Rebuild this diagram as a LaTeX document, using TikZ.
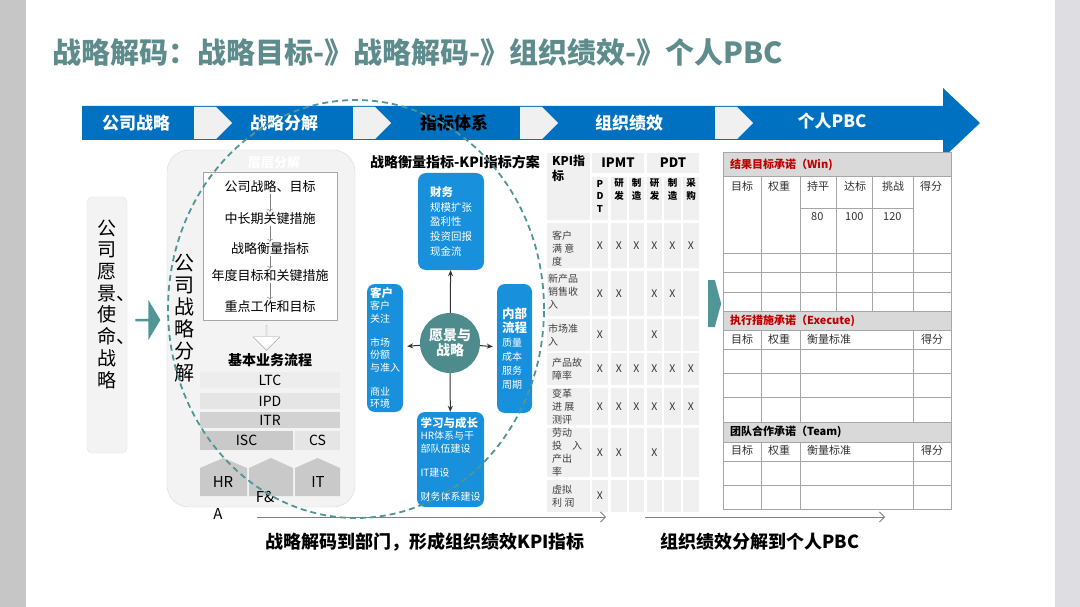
\documentclass[tikz,border=0pt]{standalone}
\usepackage{fontspec}
\setmainfont{Noto Sans CJK SC}
\usetikzlibrary{shapes.arrows,shapes.symbols,arrows.meta,positioning,calc}

\definecolor{titulo}{RGB}{94,140,140}
\definecolor{banda}{RGB}{0,112,192}
\definecolor{azulcaja}{RGB}{24,144,220}
\definecolor{verdeazul}{RGB}{78,139,140}
\definecolor{verdeflecha}{RGB}{80,150,150}
\definecolor{grisclaro}{RGB}{240,240,240}
\definecolor{grisfondo}{RGB}{243,243,243}
\definecolor{grisborde}{RGB}{166,166,166}
\definecolor{grisbanda}{RGB}{217,217,217}
\definecolor{rojo}{RGB}{192,0,0}

\newcommand{\tamano}[2]{\fontsize{#1}{#2}\selectfont}

\tikzset{
    fase/.style={
        font=\tamano{17}{17}\bfseries, % texto de cada fase sobre la banda azul
        text=white,
        inner sep=0pt
    },
    separador/.style={
        signal, signal to=east,        % flecha clara entre dos fases
        fill=grisclaro,
        minimum width=38pt,
        minimum height=32pt,
        inner sep=0pt
    },
    flechabloque/.style={
        single arrow,                  % flecha gruesa verde azulado
        fill=verdeflecha,
        inner sep=0pt
    },
    cajaazul/.style={
        rectangle,
        rounded corners=8pt,           % esquinas suaves como en la lámina
        fill=azulcaja,
        text=white,
        align=left,
        inner sep=0pt,
        font=\tamano{10.5}{14.7}
    },
    proceso/.style={
        rectangle,
        minimum width=140pt,
        minimum height=16pt,
        inner sep=0pt,
        font=\tamano{14}{14}
    },
    paso/.style={font=\tamano{13}{13}, inner sep=1pt},
    pasoflecha/.style={-{To[length=3pt,width=6pt]}, draw=gray, thin},
    celda/.style={fill=grisclaro},
    marca/.style={font=\tamano{10.5}{10.5}, text=black!80, inner sep=0pt},
    fila/.style={font=\tamano{10}{13}, text=black!75, align=left, anchor=west, inner sep=0pt},
    pbc/.style={font=\tamano{11}{11}, text=black!80, anchor=west, inner sep=0pt},
    pbctitulo/.style={font=\tamano{11}{11}\bfseries, anchor=west, inner sep=0pt},
    linea/.style={draw=grisborde, line width=1pt},
    flechabase/.style={-{Straight Barb[length=5pt,width=10pt]}, draw=gray, line width=0.8pt}
}

\begin{document}
\begin{tikzpicture}[x=1pt, y=-1pt,
        conector/.style={-{Stealth[length=6pt,width=5pt]}, draw=black!80, line width=1pt}]
    \useasboundingbox (0,0) rectangle (1080,607);
    \fill[gray!45] (0,0) rectangle (26,607);
    \fill[white] (26,0) rectangle (1055,607);
    \fill[blue!8!gray!25] (1055,0) rectangle (1080,607);

    \node[font=\tamano{29}{29}\bfseries, text=titulo, anchor=west, inner sep=0pt] (titulo)
        at (52,52) {战略解码：战略目标-》战略解码-》组织绩效-》个人PBC};

    % banda de fases
    \fill[banda] (82,106) -- (943,106) -- (943,88) -- (980,123) -- (943,158) -- (943,140) -- (82,140) -- cycle;
    \foreach \sx/\n in {205/1, 364/2, 531/3, 726/4}
        \node[separador] (sep\n) at (\sx,123) {};
    \node[fase] (f1) at (136,123) {公司战略};
    \node[fase] (f2) at (284,123) {战略分解};
    \node[fase, text=black] (f3) at (454,123) {指标体系};
    \node[fase] (f4) at (629,123) {组织绩效};
    \node[fase] (f5) at (832,121) {个人PBC};

    % vision y descomposicion
    \node[rectangle, rounded corners=5pt, fill=grisfondo, draw=gray!20,
          minimum width=40pt, minimum height=256pt] (vision) at (107,325) {};
    \node[font=\tamano{19}{21.7}, align=left, anchor=west, inner sep=0pt] (visiontxt)
        at (97,304) {公\\司\\愿\\景、\\使\\命、\\战\\略};
    \node[flechabloque, minimum height=25pt, minimum width=40pt,
          single arrow head extend=3pt, single arrow tip angle=118] (flecha1) at (147.5,320) {};

    \node[rectangle, rounded corners=22pt, fill=grisfondo, draw=gray!30,
          minimum width=188pt, minimum height=357pt] (descomp) at (261,328.5) {};
    \node[font=\tamano{13}{13}\bfseries, text=white] (capas) at (274,163) {层层分解};
    \node[font=\tamano{20}{22}, align=center, inner sep=0pt] (descomptxt)
        at (184,318) {公\\司\\战\\略\\分\\解};
    \node[rectangle, draw=grisborde, fill=white, line width=1pt,
          minimum width=134pt, minimum height=147pt] (pasos) at (270,246.5) {};
    \node[paso] (p1) at (270,187) {公司战略、目标};
    \node[paso] (p2) at (270,219) {中长期关键措施};
    \node[paso] (p3) at (270,249) {战略衡量指标};
    \node[paso] (p4) at (270,276) {年度目标和关键措施};
    \node[paso] (p5) at (270,307) {重点工作和目标};
    \draw[pasoflecha] (p1) -- (p2);
    \draw[pasoflecha] (p2) -- (p3);
    \draw[pasoflecha] (p3) -- (p4);
    \draw[pasoflecha] (p4) -- (p5);
    \node[single arrow, shape border rotate=270, draw=grisborde, fill=white, inner sep=0pt,
          minimum height=25pt, minimum width=27pt, single arrow head extend=5.5pt] (bajar) at (266.5,337.5) {};
    \node[font=\tamano{14}{14}\bfseries] (basico) at (270,360) {基本业务流程};
    \node[proceso, fill=gray!14] (ltc) at (270,380) {LTC};
    \node[proceso, fill=gray!20] (ipd) at (270,401) {IPD};
    \node[proceso, fill=gray!35] (itr) at (270,420) {ITR};
    \node[proceso, fill=gray!42, minimum width=93pt, minimum height=19pt] (isc) at (246.5,440.5) {ISC};
    \node[proceso, fill=gray!20, minimum width=45pt, minimum height=19pt] (cs) at (317.5,440.5) {CS};
    \fill[gray!42] (200,496) -- (200,468) -- (223.5,458) -- (247,468) -- (247,496) -- cycle;
    \fill[gray!42] (249,496) -- (249,468) -- (271,458) -- (293,468) -- (293,496) -- cycle;
    \fill[gray!42] (295,496) -- (295,468) -- (317.5,458) -- (340,468) -- (340,496) -- cycle;
    \node[font=\tamano{15}{15}] (hr) at (223,482) {HR};
    \node[font=\tamano{15}{15}] (fa) at (265,497) {F\&};
    \node[font=\tamano{15}{15}] (fa2) at (218,514) {A};
    \node[font=\tamano{15}{15}] (it) at (318,482) {IT};

    % cuadro de mando
    \node[font=\tamano{14}{14}\bfseries] (kpititulo) at (455,162) {战略衡量指标-KPI指标方案};
    \node[cajaazul, minimum width=66pt, minimum height=97pt] (finanzas) at (451,221.5)
        {{\bfseries\tamano{11.5}{14.7}财务}\\规模扩张\\盈利性\\投资回报\\现金流};
    \node[cajaazul, minimum width=36pt, minimum height=128pt, font=\tamano{10}{12.3}] (clientes) at (385,348)
        {{\bfseries\tamano{11.5}{12.3}客户}\\客户\\关注\\[12pt]市场\\份额\\与准入\\[12pt]商业\\环境};
    \node[cajaazul, minimum width=35pt, minimum height=129pt, font=\tamano{10}{14}] (procesos) at (514.5,348.5)
        {{\bfseries\tamano{12.5}{14}内部}\\{\bfseries\tamano{12.5}{14}流程}\\质量\\成本\\服务\\周期};
    \node[cajaazul, minimum width=67pt, minimum height=95pt, font=\tamano{10}{12.3}] (aprendizaje) at (450.5,459.5)
        {{\bfseries\tamano{11.5}{12.3}学习与成长}\\HR体系与干\\部队伍建设\\[12pt]IT建设\\[12pt]财务体系建设};
    \node[circle, fill=verdeazul, text=white, minimum size=60pt, inner sep=0pt, align=center,
          font=\tamano{14}{15}\bfseries] (centro) at (450,343) {愿景与\\战略};
    \draw[conector] (centro) -- (finanzas);
    \draw[conector] (centro) -- (aprendizaje);
    \draw[conector, shorten >=4pt] (centro) -- (clientes);
    \draw[conector, shorten >=4pt] (centro) -- (procesos);

    % tabla KPI
    \foreach \ya/\yb in {223/268,271/316,319/351,353/385,388/425,428/477,480/512}
        \foreach \xa/\xb in {547/590,592/608,611/627,629/644,647/662,664/681,683/699}
            \fill[celda] (\xa,\ya) rectangle (\xb,\yb);
    \foreach \xa/\xb in {592/608,611/627,629/644,647/662,664/681,683/699}
        \fill[celda] (\xa,177) rectangle (\xb,220);
    \fill[celda] (547,153) rectangle (590,220);
    \fill[celda] (592,153) rectangle (644,173);
    \fill[celda] (647,153) rectangle (699,173);
    \node[font=\tamano{12}{15}\bfseries, align=left, anchor=north west, inner sep=0pt] (kpi) at (552,155) {KPI指\\标};
    \node[font=\tamano{13}{13}\bfseries] (ipmt) at (618,163) {IPMT};
    \node[font=\tamano{13}{13}\bfseries] (pdt) at (673,163) {PDT};
    \node[font=\tamano{9.5}{12.5}\bfseries, align=center, inner sep=0pt] (s1) at (600,196) {P\\D\\T};
    \foreach \cx/\i/\txt in {619/2/研\\发, 636.5/3/制\\造, 654.5/4/研\\发, 672.5/5/制\\造, 691/6/采\\购}
        \node[font=\tamano{9.5}{12.5}\bfseries, align=center, inner sep=0pt] (s\i) at (\cx,189.5) {\txt};
    \node[fila] (r1) at (552,249) {客户\\满 意\\度};
    \node[fila] (r2) at (548,292) {新产品\\销售收\\入};
    \node[fila] (r3) at (548,335) {市场准\\入};
    \node[fila] (r4) at (552,369) {产品故\\障率};
    \node[fila] (r5) at (552,406.5) {变革\\进 展\\测评};
    \node[fila] (r6) at (552,452.5) {劳动\\投　入\\产出\\率};
    \node[fila] (r7) at (552,496) {虚拟\\利 润};
    \foreach \cx/\i in {600/1,619/2,636.5/3,654.5/4,672.5/5,691/6} {
        \node[marca] (xa\i) at (\cx,246) {X};
        \node[marca] (xd\i) at (\cx,369) {X};
        \node[marca] (xe\i) at (\cx,406.5) {X};
    }
    \foreach \cx/\i in {600/1,619/2,654.5/4,672.5/5}
        \node[marca] (xb\i) at (\cx,294) {X};
    \foreach \cx/\i in {600/1,654.5/4}
        \node[marca] (xc\i) at (\cx,335) {X};
    \foreach \cx/\i in {600/1,619/2,654.5/4}
        \node[marca] (xf\i) at (\cx,452.5) {X};
    \node[marca] (xg1) at (600,496) {X};

    \node[flechabloque, signal, signal to=east, signal pointer angle=150,
          minimum width=13pt, minimum height=47pt] (flecha2) at (711.5,303.5) {};

    % tabla PBC
    \fill[grisbanda] (723,153) rectangle (951,177);
    \fill[grisbanda] (723,311) rectangle (951,330);
    \fill[grisbanda] (723,422) rectangle (951,442);
    \draw[linea] (723,153) rectangle (951,509);
    \foreach \yy in {177,253,272,292,311,330,349,373,397,422,442,461,485}
        \draw[linea] (723,\yy) -- (951,\yy);
    \draw[linea] (800,209) -- (913,209);
    \foreach \xx in {761,800,836,872,913}
        \draw[linea] (\xx,177) -- (\xx,311);
    \foreach \xx in {761,800,913} {
        \draw[linea] (\xx,330) -- (\xx,422);
        \draw[linea] (\xx,442) -- (\xx,509);
    }
    \node[pbctitulo, text=rojo] (win) at (730,165) {结果目标承诺（Win)};
    \node[pbctitulo, text=rojo] (exe) at (730,320.5) {执行措施承诺（Execute)};
    \node[pbctitulo] (team) at (730,432) {团队合作承诺（Team)};
    \node[pbc] (wobj) at (731,186) {目标};
    \node[pbc] (wpes) at (768,186) {权重};
    \node[pbc] (wpar) at (807,186) {持平};
    \node[pbc] (wmet) at (844,186) {达标};
    \node[pbc] (wret) at (882,186) {挑战};
    \node[pbc] (wpun) at (920,186) {得分};
    \node[pbc] (v80) at (811,217) {80};
    \node[pbc] (v100) at (845,217) {100};
    \node[pbc] (v120) at (883,217) {120};
    \foreach \yy/\s in {339/e, 450/t} {
        \node[pbc] (obj\s) at (731,\yy) {目标};
        \node[pbc] (pes\s) at (768,\yy) {权重};
        \node[pbc] (med\s) at (807,\yy) {衡量标准};
        \node[pbc] (pun\s) at (921,\yy) {得分};
    }

    % flechas inferiores
    \coordinate (ini1) at (257,517);
    \coordinate (fin1) at (606,517);
    \coordinate (ini2) at (645,517);
    \coordinate (fin2) at (885,517);
    \draw[flechabase] (ini1) -- (fin1);
    \draw[flechabase] (ini2) -- (fin2);
    \node[font=\tamano{18}{18}\bfseries] (pie1) at (425,542) {战略解码到部门，形成组织绩效KPI指标};
    \node[font=\tamano{18}{18}\bfseries] (pie2) at (760,542) {组织绩效分解到个人PBC};

    % elipse discontinua
    \draw[verdeflecha, dashed, dash pattern=on 6pt off 4pt, line width=1.8pt]
        (356,309) ellipse [x radius=188pt, y radius=209pt];
\end{tikzpicture}
\end{document}
